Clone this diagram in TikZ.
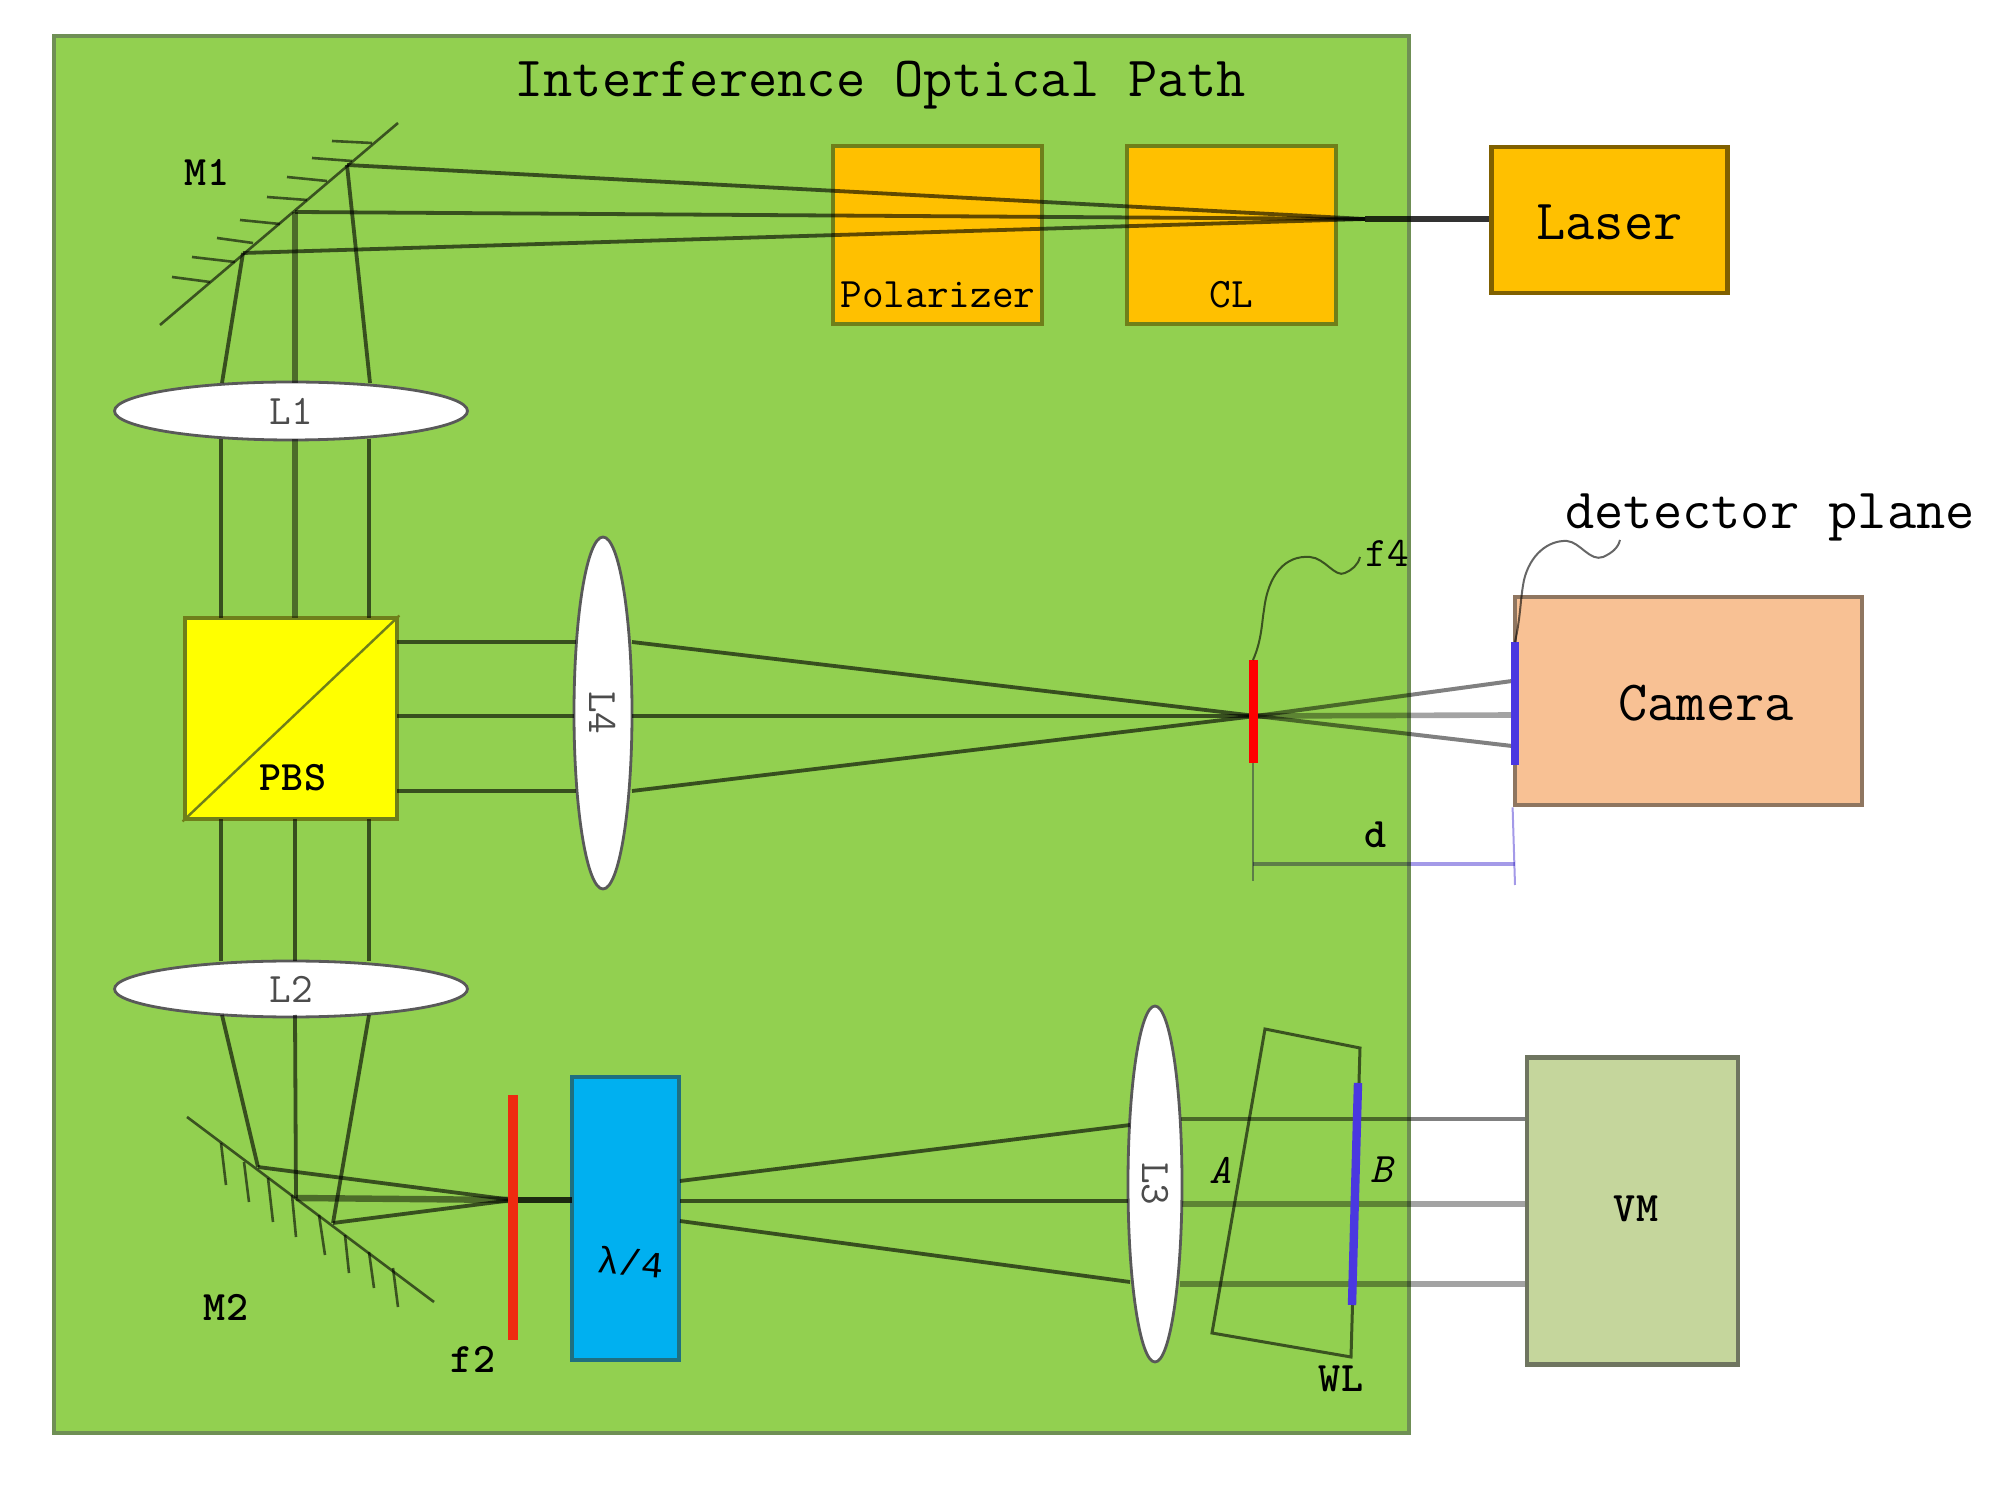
\documentclass[tikz,border=0pt]{standalone}
\usepackage{fontspec}
\newfontfamily\lamfont{Liberation Mono}
\usetikzlibrary{shapes.geometric}
\definecolor{bggreen}{HTML}{92D050}
\definecolor{bgedge}{HTML}{6F8F55}
\definecolor{amber}{HTML}{FFC000}
\definecolor{amberedge}{HTML}{6F7F1A}
\definecolor{pureyellow}{HTML}{FFFF00}
\definecolor{cyanbox}{HTML}{00B0F0}
\definecolor{cyanedge}{HTML}{1F6F80}
\definecolor{camfill}{HTML}{F8C194}
\definecolor{camedge}{HTML}{8F7660}
\definecolor{vmfill}{HTML}{C5D69C}
\definecolor{vmedge}{HTML}{6F7560}
\definecolor{redbar}{HTML}{EE2A10}
\definecolor{bluebar}{HTML}{4A38E0}
\definecolor{dimc}{HTML}{A49AE8}
\tikzset{
  big/.style={font=\ttfamily\fontsize{28.4}{28.4}\selectfont},
  small/.style={font=\ttfamily\fontsize{21}{21}\selectfont},
  smallb/.style={font=\ttfamily\fontsize{21}{21}\selectfont\bfseries},
  lab/.style={inner sep=0pt,text=black},
  box/.style={draw,line width=2.4pt,inner sep=0pt,rectangle},
  optic/.style={box,fill=amber,draw=amberedge},
  lens/.style={ellipse,draw=black!65,fill=white,line width=1.4pt,inner sep=0pt,text=black!70,small},
  beam/.style={draw=black,draw opacity=.62,line width=1.9pt},
  midbeam/.style={draw=black,draw opacity=.48,line width=3.2pt},
  softbeam/.style={draw=black!36,blend mode=multiply,line width=2.8pt},
  darksoft/.style={draw=black!50,blend mode=multiply,line width=2pt},
  thickbeam/.style={draw=black,draw opacity=.8,line width=2.8pt},
  mirror/.style={draw=black,draw opacity=.6,line width=1.3pt},
  hatch/.style={draw=black,draw opacity=.6,line width=1.3pt},
  leader/.style={draw=black,draw opacity=.6,line width=1pt},
  dim/.style={draw=dimc,line width=1pt,blend mode=multiply},
}
\begin{document}
\begin{tikzpicture}[x=0.5pt,y=-0.5pt]
\useasboundingbox (0,0) rectangle (1999,1491);
% panel
\node[box,fill=bggreen,draw=bgedge,minimum width=677.5pt,minimum height=698.5pt] (panel) at (731.5,734.5) {};
\node[big,lab] (title) at (880,85) {Interference Optical Path};
% boxes
\node[optic,minimum width=104.5pt,minimum height=89pt] (pol) at (937.5,235) {};
\node[optic,minimum width=104.5pt,minimum height=89pt] (cl) at (1231.5,235) {};
\node[box,fill=amber,draw=black!50!amber,minimum width=118pt,minimum height=73pt] (laser) at (1609.5,220) {};
\node[box,fill=pureyellow,draw=amberedge,minimum width=106pt,minimum height=100.5pt] (pbs) at (291,718.5) {};
\node[box,fill=cyanbox,draw=cyanedge,minimum width=53.5pt,minimum height=141.5pt] (qwp) at (625.5,1218.5) {};
\node[box,fill=camfill,draw=camedge,minimum width=173.5pt,minimum height=104pt] (camera) at (1688.5,701) {};
\node[box,fill=vmfill,draw=vmedge,minimum width=105.5pt,minimum height=153.5pt] (vm) at (1632.5,1211) {};
% lenses
\node[lens,minimum width=176.5pt,minimum height=29pt] (L1) at (291,411) {L1};
\node[lens,minimum width=176.5pt,minimum height=28pt] (L2) at (291,989) {L2};
\node[lens,minimum width=29pt,minimum height=176pt] (L4) at (603,713) {\rotatebox{-90}{L4}};
\node[lens,minimum width=27pt,minimum height=178pt] (L3) at (1155,1184) {\rotatebox{-90}{L3}};
% named points
\coordinate (m1a) at (160,325); \coordinate (m1b) at (398,123);
\coordinate (m2a) at (187,1117); \coordinate (m2b) at (434,1302);
\coordinate (pA) at (243,253); \coordinate (pB) at (295,212); \coordinate (pC) at (347,165);
\coordinate (conv) at (1365,219);
\coordinate (laserIn) at (laser.west|-conv);
\coordinate (u1a) at (222,383); \coordinate (u1b) at (295,383); \coordinate (u1c) at (370,383);
\coordinate (u2a) at (221,439); \coordinate (u2b) at (295,439); \coordinate (u2c) at (369,439);
\coordinate (u3a) at (221,618); \coordinate (u3b) at (295,618); \coordinate (u3c) at (369,618);
\coordinate (d1a) at (221,819); \coordinate (d1b) at (295,819); \coordinate (d1c) at (369,819);
\coordinate (d2a) at (221,961); \coordinate (d2b) at (295,961); \coordinate (d2c) at (369,961);
\coordinate (d3a) at (222,1015); \coordinate (d3b) at (295,1015); \coordinate (d3c) at (369,1015);
\coordinate (qA) at (258,1167); \coordinate (qB) at (296,1198); \coordinate (qC) at (333,1223);
\coordinate (f2c) at (513,1200);
\coordinate (qwpIn) at (572,1200);
\coordinate (h1) at (397,642); \coordinate (h2) at (397,716); \coordinate (h3) at (397,791);
\coordinate (l4a) at (576,642); \coordinate (l4b) at (574,716); \coordinate (l4c) at (576,791);
\coordinate (r4a) at (632,642); \coordinate (r4b) at (632,716); \coordinate (r4c) at (632,791);
\coordinate (f4c) at (1256,716);
\coordinate (dt1) at (1512,681); \coordinate (dt2) at (1512,715); \coordinate (dt3) at (1512,746);
\coordinate (o1) at (680,1181); \coordinate (o2) at (680,1201); \coordinate (o3) at (680,1221);
\coordinate (i1) at (1130,1125); \coordinate (i2) at (1128,1201); \coordinate (i3) at (1130,1282);
\coordinate (e1) at (1181,1119); \coordinate (e2) at (1182,1204); \coordinate (e3) at (1180,1284);
\coordinate (v1) at (vm.west|-e1); \coordinate (v2) at (vm.west|-e2); \coordinate (v3) at (vm.west|-e3);
% PBS diagonal
\draw[draw=amberedge,line width=1.2pt] (pbs.south west) -- (pbs.north east);
% mirrors
\draw[mirror] (m1a) -- (m1b);
\foreach \xa/\ya/\xb/\yb in {210/282/172/277,235/262/192/257,253/243/217/238,280/224/240/220,307/200/267/197,327/181/287/177,352/161/312/158,372/143/332/141}
  \draw[hatch] (\xa,\ya) -- (\xb,\yb);
\draw[mirror] (m2a) -- (m2b);
\foreach \xa/\ya/\xb/\yb in {221/1143/226/1185,244/1162/249/1202,268/1178/273/1222,292/1195/296/1237,319/1215/325/1255,345/1235/349/1273,369/1252/374/1288,393/1268/398/1307}
  \draw[hatch] (\xa,\ya) -- (\xb,\yb);
% upper beams
\draw[beam] (pA) -- (conv);
\draw[beam] (pB) -- (conv);
\draw[beam] (pC) -- (conv);
\draw[thickbeam] (conv) -- (laserIn);
\draw[beam] (pA) -- (u1a);
\draw[midbeam] (pB) -- (u1b);
\draw[beam] (pC) -- (u1c);
\draw[beam] (u2a) -- (u3a); \draw[midbeam] (u2b) -- (u3b); \draw[beam] (u2c) -- (u3c);
\draw[beam] (d1a) -- (d2a); \draw[beam] (d1b) -- (d2b); \draw[beam] (d1c) -- (d2c);
\draw[beam] (d3a) -- (qA); \draw[beam] (d3b) -- (qB); \draw[beam] (d3c) -- (qC);
\draw[beam] (qA) -- (f2c); \draw[midbeam] (qB) -- (f2c); \draw[beam] (qC) -- (f2c);
\draw[thickbeam] (f2c) -- (qwpIn);
% horizontal arm
\draw[beam] (h1) -- (l4a); \draw[beam] (h2) -- (l4b); \draw[beam] (h3) -- (l4c);
\draw[beam] (r4a) -- (f4c); \draw[beam] (r4b) -- (f4c); \draw[beam] (r4c) -- (f4c);
\draw[darksoft] (f4c) -- (dt1); \draw[softbeam] (f4c) -- (dt2); \draw[darksoft] (f4c) -- (dt3);
% lower arm
\draw[beam] (o1) -- (i1); \draw[beam] (o2) -- (i2); \draw[beam] (o3) -- (i3);
\draw[darksoft] (e1) -- (v1); \draw[softbeam] (e2) -- (v2); \draw[softbeam] (e3) -- (v3);
% wedge
\coordinate (w1) at (1265,1029); \coordinate (w2) at (1360,1048);
\coordinate (w3) at (1351,1357); \coordinate (w4) at (1212,1333);
\draw[draw=black,draw opacity=.6,line width=1.5pt] (w1) -- (w2) -- (w3) -- (w4) -- cycle;
% bars
\coordinate (f2t) at (513,1095); \coordinate (f2b) at (513,1340);
\draw[draw=redbar,line width=5pt] (f2t) -- (f2b);
\coordinate (f4t) at (1253,660); \coordinate (f4b) at (1253,763);
\draw[draw=red,line width=4.5pt] (f4t) -- (f4b);
\coordinate (dpt) at (1515,642); \coordinate (dpb) at (1515,765);
\draw[draw=bluebar,line width=4pt] (dpt) -- (dpb);
\coordinate (wbt) at (1358,1083); \coordinate (wbb) at (1352,1305);
\draw[draw=bluebar,line width=4.2pt] (wbt) -- (wbb);
% dimension
\coordinate (dl) at (1253,864); \coordinate (dr) at (1515,864);
\draw[dim] (f4b) -- (1253,881);
\draw[dim] (camera.south west) -- (1515,885);
\draw[dim,line width=1.6pt] (dl) -- (dr);
% leaders
\draw[leader] (f4t) .. controls (1262,640) and (1262,620) .. (1264,610) .. controls (1268,575) and (1285,555) .. (1310,557) .. controls (1325,558) and (1335,578) .. (1345,573) .. controls (1352,570) and (1358,565) .. (1360,557);
\draw[leader] (dpt) .. controls (1521,615) and (1520,600) .. (1524,580) .. controls (1530,555) and (1548,540) .. (1567,541) .. controls (1580,542) and (1590,562) .. (1603,557) .. controls (1612,553) and (1618,548) .. (1620,540);
% labels
\node[big,lab] (tLaser) at (laser.center) [yshift=-1pt] {Laser};
\node[big,lab] (tCam) at (1706,703) {Camera};
\node[big,lab] (tDet) at (1770,517) {detector plane};
\node[smallb,lab] (tVM) at (1636,1209) {VM};
\node[small,lab] (tPol) at (938,295) {Polarizer};
\node[small,lab] (tCL) at (1231,295) {CL};
\node[smallb,lab] (tPBS) at (293,778) {PBS};
\node[smallb,lab] (tM1) at (207,172) {M1};
\node[smallb,lab] (tM2) at (226,1307) {M2};
\node[smallb,lab] (tf2) at (473,1359) {f2};
\node[small,lab] (tf4) at (1387,553) {f4};
\node[smallb,lab] (td) at (1376,835) {d};
\node[small,lab,font=\ttfamily\fontsize{21}{21}\selectfont\itshape] (tA) at (1221,1170) {A};
\node[small,lab,font=\ttfamily\fontsize{21}{21}\selectfont\itshape] (tB) at (1382,1170) {B};
\node[smallb,lab] (tWL) at (1341,1379) {WL};
\node[lab,font=\lamfont\fontsize{18.5}{18.5}\selectfont,rotate=-5] (tQ) at (631,1262) {λ/4};
\end{tikzpicture}
\end{document}
